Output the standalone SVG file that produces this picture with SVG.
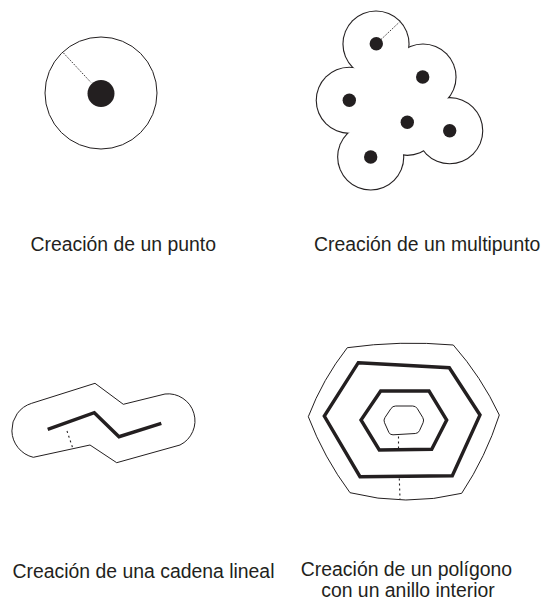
<svg xmlns="http://www.w3.org/2000/svg" width="544" height="602" viewBox="0 0 544 602">
  <style>
    .thin { fill: none; stroke: #231f20; stroke-width: 1; }
    .thick { fill: none; stroke: #231f20; stroke-width: 3.4; stroke-linejoin: miter; }
    .dot { fill: #231f20; }
    .dots { fill: none; stroke: #231f20; stroke-width: 1; stroke-dasharray: 1.2 1.3; }
    .dash { fill: none; stroke: #231f20; stroke-width: 1.1; stroke-dasharray: 2 3; }
    .lbl { font-family: "Liberation Sans", Arial, Helvetica, sans-serif; font-size: 19.4px; fill: #231f20; }
  </style>
  <rect width="544" height="602" fill="#ffffff"/>

  <g id="punto">
    <circle class="thin" cx="101" cy="93" r="56"/>
    <line class="dots" x1="63.5" y1="53" x2="91" y2="82.5"/>
    <circle class="dot" cx="101" cy="93.5" r="13.5"/>
    <text class="lbl" x="30.5" y="251">Creación de un punto</text>
  </g>

  <g id="multipunto">
    <g fill="#231f20">
      <circle cx="376" cy="44" r="33.6"/>
      <circle cx="423" cy="77" r="33.6"/>
      <circle cx="349.3" cy="100.3" r="33.6"/>
      <circle cx="407.3" cy="122.3" r="33.6"/>
      <circle cx="449.7" cy="130.7" r="33.6"/>
      <circle cx="370.7" cy="157" r="33.6"/>
      <polygon points="376,44 423,77 449.7,130.7 407.3,122.3 370.7,157 349.3,100.3"/>
    </g>
    <g fill="#ffffff">
      <circle cx="376" cy="44" r="32.5"/>
      <circle cx="423" cy="77" r="32.5"/>
      <circle cx="349.3" cy="100.3" r="32.5"/>
      <circle cx="407.3" cy="122.3" r="32.5"/>
      <circle cx="449.7" cy="130.7" r="32.5"/>
      <circle cx="370.7" cy="157" r="32.5"/>
      <polygon points="376,44 423,77 449.7,130.7 407.3,122.3 370.7,157 349.3,100.3"/>
    </g>
    <line class="dots" x1="381" y1="39.5" x2="399.5" y2="22"/>
    <circle class="dot" cx="376.3" cy="43.7" r="6.7"/>
    <circle class="dot" cx="422.7" cy="77" r="6.7"/>
    <circle class="dot" cx="349.3" cy="100.3" r="6.7"/>
    <circle class="dot" cx="407.3" cy="122.3" r="6.7"/>
    <circle class="dot" cx="449.7" cy="130.7" r="6.7"/>
    <circle class="dot" cx="370.7" cy="157" r="6.7"/>
    <text class="lbl" x="314" y="251">Creación de un multipunto</text>
  </g>

  <g id="cadena">
    <path class="thin" d="M31.7,403.3 L95,383.3 L123.3,404.3 L165,394 A27,27 0 0 1 180,445 L116.7,462.7 L90,445 L33.3,457.3 A28,28 0 0 1 31.7,403.3 Z"/>
    <polyline class="thick" points="47.7,429.3 94.3,412.7 119,436.7 161.3,423.3"/>
    <line class="dash" x1="67" y1="431" x2="72.7" y2="448"/>
    <text class="lbl" x="12.5" y="578">Creación de una cadena lineal</text>
  </g>

  <g id="poligono">
    <path class="thin" d="M347.3,347.7 Q400,340.3 453.3,345 Q481.3,376.7 499.3,415 Q485.9,456.8 461.7,493.3 Q405.8,507 350,492.7 Q323.9,457.6 308.3,416.7 Q322.6,379.2 347.3,347.7 Z"/>
    <polygon class="thick" points="358.3,362.7 449.3,367.7 480,415 452.3,475.7 360,476.7 324.3,416"/>
    <polygon class="thick" points="380.7,391 429,391 446.7,420 431.7,449.3 379.3,450 361,420"/>
    <path class="thin" d="M395.7,406 L412.7,406 Q415.7,406 417.3,408.6 L422.7,417.4 Q424.3,420 423.1,422.7 L419.5,430.6 Q418.3,433.3 415.3,433.5 L393,434.8 Q390,435 388.8,432.3 L384.5,422.7 Q383.3,420 385,417.5 L391,408.5 Q392.7,406 395.7,406 Z"/>
    <line class="dash" x1="398.5" y1="436.5" x2="398.5" y2="449"/>
    <line class="dash" x1="399.3" y1="478.5" x2="400" y2="499"/>
    <text class="lbl" text-anchor="middle" x="406.5" y="576">Creación de un polígono</text>
    <text class="lbl" text-anchor="middle" x="408" y="597">con un anillo interior</text>
  </g>
</svg>
